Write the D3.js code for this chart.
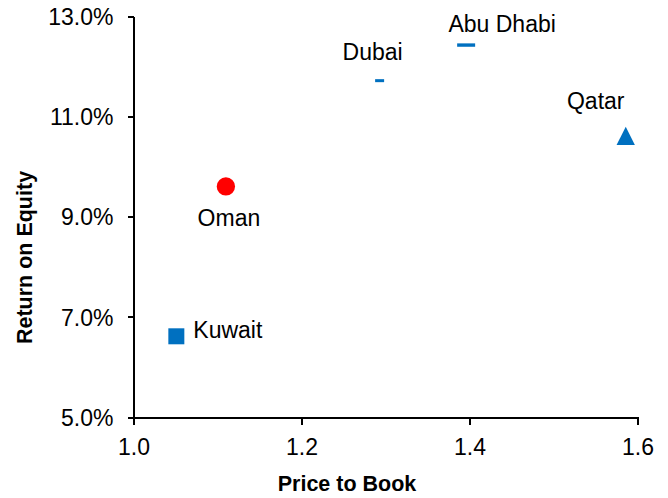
<!DOCTYPE html>
<html>
<head>
<meta charset="utf-8">
<script src="https://cdn.jsdelivr.net/npm/d3@7"></script>
<style>
  body { margin: 0; background: #fff; }
  text { font-family: "Liberation Sans", Arial, sans-serif; fill: #000; }
  .axis-label { font-weight: bold; font-size: 21.5px; }
  .tick text { font-size: 23px; }
  .point-label { font-size: 23px; }
</style>
</head>
<body>
<div id="chart"></div>
<script>
// data
const markets = ['Dubai', 'Abu Dhabi', 'Qatar', 'Oman', 'Kuwait'];
const priceToBook = [1.293, 1.396, 1.586, 1.110, 1.051];
const returnOnEquity = [11.71, 12.42, 10.61, 9.60, 6.61];
const xTickValues = [1.0, 1.2, 1.4, 1.6];
const yTickValues = [5, 7, 9, 11, 13];
const xLabel = 'Price to Book';
const yLabel = 'Return on Equity';

// marker + label styling (not data)
const markerStyle = {
  'Dubai':     { shape: 'dash', w: 9, h: 3, color: '#0070C0' },
  'Abu Dhabi': { shape: 'dash', w: 18, h: 3.4, color: '#0070C0' },
  'Qatar':     { shape: 'triangle', w: 18.3, h: 18.3, color: '#0070C0' },
  'Oman':      { shape: 'circle', w: 18.3, h: 18.3, color: '#FF0000' },
  'Kuwait':    { shape: 'square', w: 16, h: 16, color: '#0070C0' }
};
const labelStyle = {
  'Dubai':     { dx: -7, dy: -21, anchor: 'middle' },
  'Abu Dhabi': { dx: 36, dy: -13, anchor: 'middle' },
  'Qatar':     { dx: -30, dy: -27, anchor: 'middle' },
  'Oman':      { dx: 3, dy: 40, anchor: 'middle' },
  'Kuwait':    { dx: 17, dy: 2, anchor: 'start' }
};

const width = 668, height = 498;
const margin = { top: 16, right: 30.5, bottom: 81, left: 133.5 };
const innerWidth = width - margin.left - margin.right;
const innerHeight = height - margin.top - margin.bottom;

const data = markets.map((m, i) => ({ name: m, x: priceToBook[i], y: returnOnEquity[i] }));

const xScale = d3.scaleLinear().domain([1.0, 1.6]).range([0, innerWidth]);
const yScale = d3.scaleLinear().domain([5, 13]).range([innerHeight, 0]);

const svg = d3.select('#chart').append('svg')
  .attr('width', width)
  .attr('height', height);

const g = svg.append('g')
  .attr('transform', `translate(${margin.left},${margin.top})`);

const xAxis = d3.axisBottom(xScale)
  .tickValues(xTickValues)
  .tickFormat(d3.format('.1f'))
  .tickSizeInner(8)
  .tickSizeOuter(0)
  .tickPadding(14);

const yAxis = d3.axisLeft(yScale)
  .tickValues(yTickValues)
  .tickFormat(d => d.toFixed(1) + '%')
  .tickSizeInner(6)
  .tickSizeOuter(0)
  .tickPadding(14);

const xAxisG = g.append('g')
  .attr('transform', `translate(0,${innerHeight})`)
  .call(xAxis);
const yAxisG = g.append('g').call(yAxis);

[xAxisG, yAxisG].forEach(a => {
  a.select('.domain').attr('stroke', '#000').attr('stroke-width', 2).attr('shape-rendering', 'crispEdges');
  a.selectAll('.tick line').attr('stroke', '#000').attr('stroke-width', 2).attr('shape-rendering', 'crispEdges');
  a.selectAll('.tick text').attr('fill', '#000').style('font-family', '"Liberation Sans", Arial, sans-serif');
});
yAxisG.selectAll('.tick text').attr('dy', '0.36em');
xAxisG.selectAll('.tick text').attr('dy', '0.68em');

// axis titles
svg.append('text')
  .attr('class', 'axis-label')
  .attr('x', 347)
  .attr('y', 491)
  .attr('text-anchor', 'middle')
  .text(xLabel);

svg.append('text')
  .attr('class', 'axis-label')
  .attr('transform', 'translate(32,257.5) rotate(-90)')
  .attr('text-anchor', 'middle')
  .text(yLabel);

function markerPath(s) {
  const w = s.w / 2, h = s.h / 2;
  if (s.shape === 'triangle') return `M0,${-h}L${w},${h}L${-w},${h}Z`;
  if (s.shape === 'circle') return d3.symbol().type(d3.symbolCircle).size(Math.PI * w * w)();
  return `M${-w},${-h}H${w}V${h}H${-w}Z`;
}

const pts = g.selectAll('.pt').data(data).enter().append('g')
  .attr('class', 'pt')
  .attr('transform', d => `translate(${xScale(d.x)},${yScale(d.y)})`);

pts.append('path')
  .attr('d', d => markerPath(markerStyle[d.name]))
  .attr('fill', d => markerStyle[d.name].color);

pts.append('text')
  .attr('class', 'point-label')
  .attr('x', d => labelStyle[d.name].dx)
  .attr('y', d => labelStyle[d.name].dy)
  .attr('text-anchor', d => labelStyle[d.name].anchor)
  .text(d => d.name);
</script>
</body>
</html>
